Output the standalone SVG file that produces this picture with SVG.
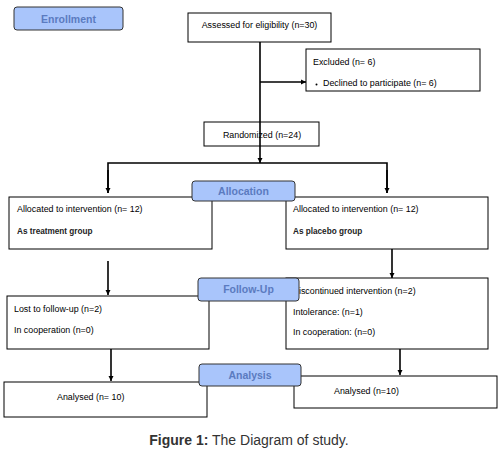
<svg xmlns="http://www.w3.org/2000/svg" width="503" height="451" viewBox="0 0 503 451">
<style>
.box{fill:#fff;stroke:#000;stroke-width:1}
.stage{fill:#a9c5fb;stroke:#333;stroke-width:1}
.st{font-family:"Liberation Sans",Arial,sans-serif;font-size:10.5px;font-weight:bold;fill:#5b7bc0;text-anchor:middle}
.t{font-family:"Liberation Sans",Arial,sans-serif;font-size:8.9px;fill:#000}
.tb{font-family:"Liberation Sans",Arial,sans-serif;font-size:8.2px;font-weight:bold;fill:#222}
.c{fill:none;stroke:#000;stroke-width:1.6}
.cap{font-family:"Liberation Sans",Arial,sans-serif;font-size:14px;fill:#333;text-anchor:middle}
</style>
<defs>
<marker id="ah" viewBox="0 0 10 10" refX="10" refY="5" markerWidth="3.2" markerHeight="3.2" orient="auto" markerUnits="strokeWidth">
<path d="M0,0 L10,5 L0,10 z" fill="#000"/>
</marker>
</defs>
<rect width="503" height="451" fill="#fff"/>
<g id="connectors">
<line class="c" x1="260" y1="42" x2="260" y2="163" marker-end="url(#ah)"/>
<line class="c" x1="260" y1="82" x2="306" y2="82" marker-end="url(#ah)"/>
<polyline class="c" points="108,193 108,163 387,163 387,193" fill="none"/>
<line class="c" x1="108" y1="170" x2="108" y2="193" marker-end="url(#ah)"/>
<line class="c" x1="387" y1="170" x2="387" y2="193" marker-end="url(#ah)"/>
<line class="c" x1="108" y1="261" x2="108" y2="295" marker-end="url(#ah)"/>
<line class="c" x1="392" y1="245" x2="392" y2="278" marker-end="url(#ah)"/>
<line class="c" x1="111" y1="349" x2="111" y2="381" marker-end="url(#ah)"/>
<line class="c" x1="400" y1="342" x2="400" y2="375" marker-end="url(#ah)"/>
</g>
<g id="enrollment">
<rect class="stage" x="14" y="7" width="109" height="23" rx="3"/>
<text class="st" x="68.5" y="22.5">Enrollment</text>
</g>
<g id="assessed">
<rect class="box" x="188" y="13" width="143" height="29"/>
<text class="t" x="259.5" y="28" text-anchor="middle">Assessed for eligibility (n=30)</text>
</g>
<g id="excluded">
<rect class="box" x="306" y="49" width="174" height="42"/>
<text class="t" x="313" y="65">Excluded (n= 6)</text>
<circle cx="316.5" cy="84.5" r="1" fill="#000"/>
<text class="t" x="323" y="86">Declined to participate (n= 6)</text>
</g>
<g id="randomized">
<rect class="box" x="204" y="122" width="115" height="24"/>
<text class="t" x="262" y="138" text-anchor="middle">Randomized (n=24)</text>
</g>
<line class="c" x1="260" y1="122" x2="260" y2="146"/>
<g id="alloc-left">
<rect class="box" x="9" y="197" width="203" height="52"/>
<text class="t" x="17" y="212">Allocated to intervention (n= 12)</text>
<text class="tb" x="17" y="234">As treatment group</text>
</g>
<g id="alloc-right">
<rect class="box" x="286" y="197" width="202" height="52"/>
<text class="t" x="293" y="212">Allocated to intervention (n= 12)</text>
<text class="tb" x="293" y="234">As placebo group</text>
</g>
<g id="allocation">
<rect class="stage" x="192" y="181" width="103" height="20" rx="3"/>
<text class="st" x="243.5" y="195">Allocation</text>
</g>
<g id="follow-right">
<rect class="box" x="286" y="278" width="202" height="71"/>
<text class="t" x="292.5" y="294">Discontinued intervention (n=2)</text>
<text class="t" x="293" y="315">Intolerance: (n=1)</text>
<text class="t" x="293" y="335">In cooperation: (n=0)</text>
</g>
<g id="follow-left">
<rect class="box" x="7" y="296" width="202" height="53"/>
<text class="t" x="14" y="312">Lost to follow-up (n=2)</text>
<text class="t" x="14" y="333">In cooperation (n=0)</text>
</g>
<g id="followup">
<rect class="stage" x="198" y="278" width="101" height="23" rx="3"/>
<text class="st" x="248.5" y="293">Follow-Up</text>
</g>
<g id="analysed-left">
<rect class="box" x="4" y="382" width="203" height="35"/>
<text class="t" x="57" y="400">Analysed (n= 10)</text>
</g>
<g id="analysed-right">
<rect class="box" x="294" y="376" width="203" height="32"/>
<text class="t" x="334" y="394">Analysed  (n=10)</text>
</g>
<g id="analysis">
<rect class="stage" x="199" y="364" width="102" height="22" rx="3"/>
<text class="st" x="250" y="379">Analysis</text>
</g>
<text class="cap" x="249" y="445"><tspan font-weight="bold">Figure 1:</tspan> The Diagram of study.</text>
</svg>
